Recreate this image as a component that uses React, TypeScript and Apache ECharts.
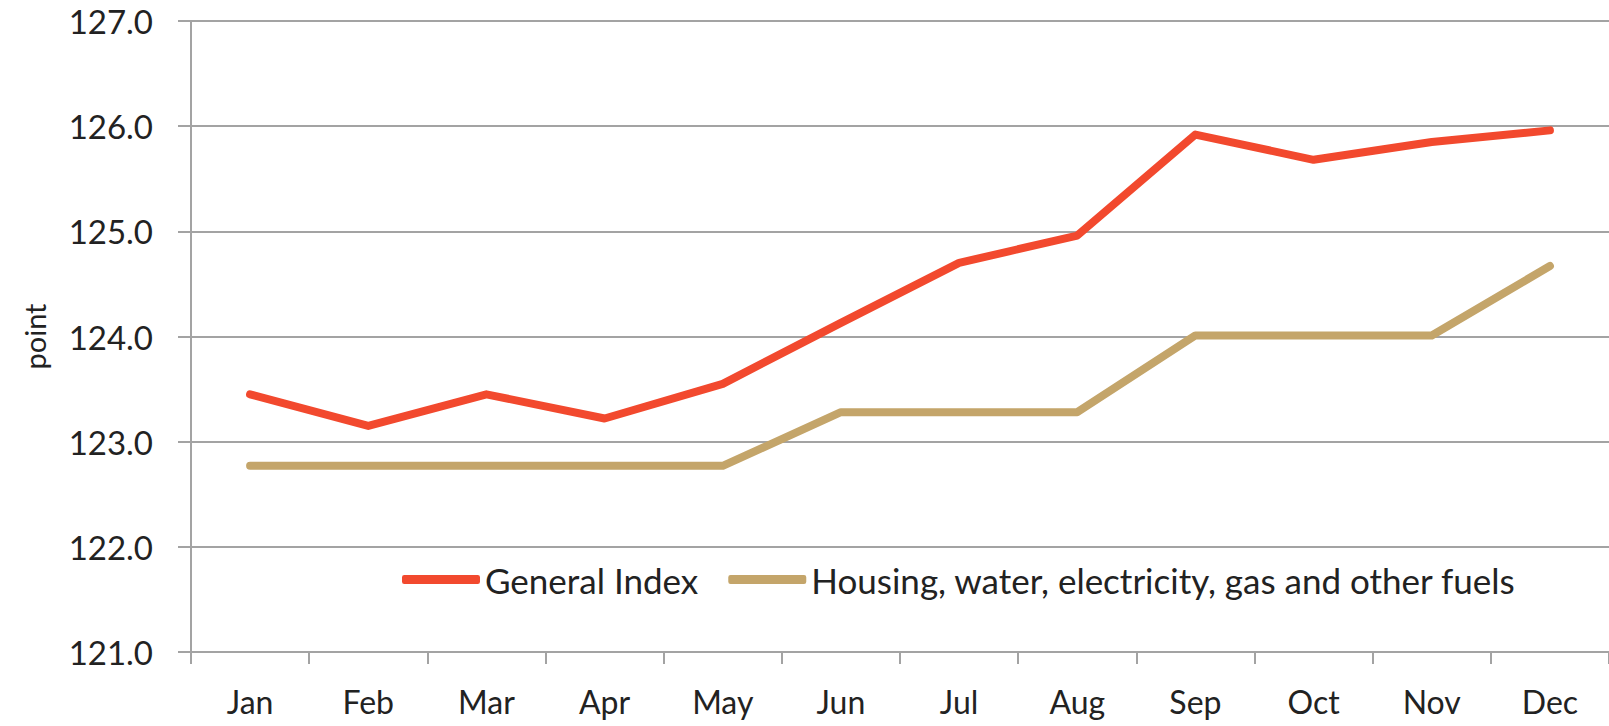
import React, { useEffect, useRef } from "react";
import * as echarts from "echarts";

const months = ["Jan", "Feb", "Mar", "Apr", "May", "Jun", "Jul", "Aug", "Sep", "Oct", "Nov", "Dec"];
const generalIndex = [123.45, 123.15, 123.45, 123.22, 123.55, 124.13, 124.7, 124.96, 125.92, 125.68, 125.85, 125.96];
const housing = [122.77, 122.77, 122.77, 122.77, 122.77, 123.28, 123.28, 123.28, 124.01, 124.01, 124.01, 124.67];
const seriesNames = ["General Index", "Housing, water, electricity, gas and other fuels"];

const FONT = "Lato";
const AXIS_GRAY = "#a3a3a3";

export default function App() {
  const ref = useRef<HTMLDivElement>(null);
  useEffect(() => {
    if (!ref.current) return;
    const chart = echarts.init(ref.current, null, { renderer: "svg" });
    chart.setOption({
      animation: false,
      backgroundColor: "#ffffff",
      textStyle: { fontFamily: FONT },
      grid: { left: 191, right: -6, top: 21, bottom: 74, containLabel: false },
      legend: {
        left: 397,
        top: 557,
        itemWidth: 78,
        itemHeight: 9,
        itemGap: 30,
        icon: "roundRect",
        textStyle: { fontFamily: FONT, fontSize: 35, color: "#222" },
        data: seriesNames,
      },
      xAxis: {
        type: "category",
        data: months,
        boundaryGap: true,
        axisLine: { show: true, lineStyle: { color: AXIS_GRAY, width: 2 } },
        axisTick: { show: true, length: 12, inside: false, lineStyle: { color: AXIS_GRAY, width: 2 } },
        axisLabel: { fontFamily: FONT, fontSize: 32, color: "#222", margin: 33 },
        splitLine: { show: false },
      },
      yAxis: {
        type: "value",
        min: 121,
        max: 127,
        interval: 1,
        name: "point",
        nameLocation: "middle",
        nameRotate: 90,
        nameGap: 142,
        nameTextStyle: { fontFamily: FONT, fontSize: 29, color: "#222" },
        axisLine: { show: true, lineStyle: { color: AXIS_GRAY, width: 2 } },
        axisTick: { show: true, length: 13, lineStyle: { color: AXIS_GRAY, width: 2 } },
        axisLabel: {
          fontFamily: FONT,
          fontSize: 33,
          color: "#222",
          margin: 38,
          formatter: (v: number) => v.toFixed(1),
        },
        splitLine: { show: true, lineStyle: { color: AXIS_GRAY, width: 2 } },
      },
      series: [
        {
          name: seriesNames[0],
          type: "line",
          data: generalIndex,
          showSymbol: false,
          symbol: "none",
          color: "#f2492e",
          lineStyle: { width: 8, color: "#f2492e", cap: "round", join: "round" },
        },
        {
          name: seriesNames[1],
          type: "line",
          data: housing,
          showSymbol: false,
          symbol: "none",
          color: "#c4a56a",
          lineStyle: { width: 8, color: "#c4a56a", cap: "round", join: "round" },
        },
      ],
    });
    return () => chart.dispose();
  }, []);
  return <div ref={ref} style={{ position: "fixed", left: 0, top: 0, width: 1609, height: 726 }} />;
}
